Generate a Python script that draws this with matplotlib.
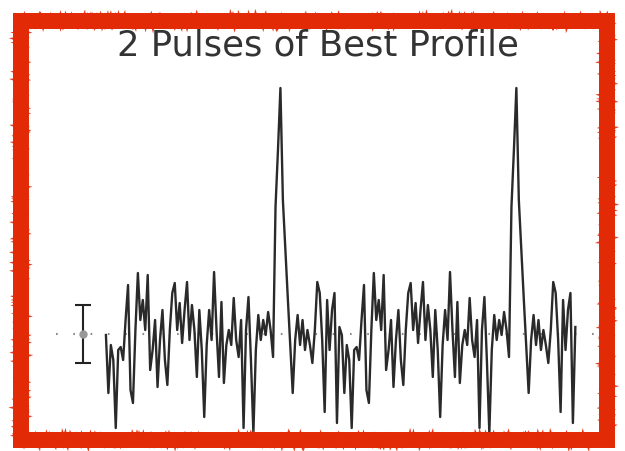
import numpy as np
import matplotlib
matplotlib.use("Agg")
import matplotlib.pyplot as plt
from matplotlib.patches import Rectangle

# ---------------------------------------------------------
# Datos: un perfil (96 bins), relativo a la linea base
# ---------------------------------------------------------
perfil = [
    -1, -59, -11, -26, -94, -16, -13, -26, 14, 49,
    -56, -69, 4, 61, 14, 34, 4, 59, -36, -16,
    14, -53, -6, 24, -26, -51, 4, 41, 51, 4,
    31, -9, 24, 52, -6, 29, 4, -43, 24, -16,
    -83, -11, 24, -6, 62, 4, -43, 32, -49, -11,
    4, -11, 36, -6, -23, 14, -94, 4, 37, -26,
    -99, -16, 19, -6, 14, -1, 22, 4, -23, 127,
    184, 246, 134, 84, 36, -11, -59, -6, 19, -11,
    14, -16, 4, -11, -29, 4, 52, 41, -6, -78,
    34, -16, 24, 41, -89, 7,
]
n_pulsos = 2
barra_error = 29          # semialtura de la barra de error
pos_barra = -9.4          # posicion (en bins) de la barra de error
titulo = "2 Pulses of Best Profile"
rojo = "#e22a06"


def marco_rojo(fig, lw, sketch=None, alpha=1.0):
    r = Rectangle((21 / 625, 11 / 451), 586 / 625, 419 / 451,
                  transform=fig.transFigure, fill=False, alpha=alpha,
                  edgecolor=rojo, linewidth=lw, joinstyle="miter")
    if sketch:
        r.set_sketch_params(*sketch)
    fig.patches.append(r)


def dibujar(perfil):
    datos = np.tile(perfil, n_pulsos)
    bins = np.arange(len(datos))

    fig = plt.figure(figsize=(6.25, 4.51), dpi=100)
    ax = fig.add_axes([0, 0, 1, 1])
    ax.set_xlim(-43.1, 211.2)
    ax.set_ylim(-117, 334)
    ax.axis("off")

    # linea base punteada
    ax.axhline(0, xmin=0.09, color="#8a8a8a", lw=1.5,
               linestyle=(0, (0.8, 7.5)), zorder=1)

    # perfil
    ax.plot(bins, datos, color="#2a2a2a", lw=1.7, zorder=3)

    # barra de error
    ax.errorbar([pos_barra], [0], yerr=[barra_error], fmt="o", color="#222222",
                ecolor="#222222", elinewidth=1.5, capsize=6, capthick=1.5,
                markersize=5, markerfacecolor="#999999", markeredgecolor="#999999",
                zorder=4)

    fig.text(0.509, 0.9, titulo, ha="center", va="center", fontsize=25.5,
             color="#333333", fontfamily="DejaVu Sans")

    # marco rojo con bordes irregulares
    marco_rojo(fig, 11.5)
    marco_rojo(fig, 3, sketch=(4, 3, 3), alpha=0.9)
    marco_rojo(fig, 2, sketch=(5, 2, 4), alpha=0.8)

    fig.savefig("out.png", dpi=100, facecolor="white")
    plt.close(fig)


if __name__ == "__main__":
    dibujar(perfil)
